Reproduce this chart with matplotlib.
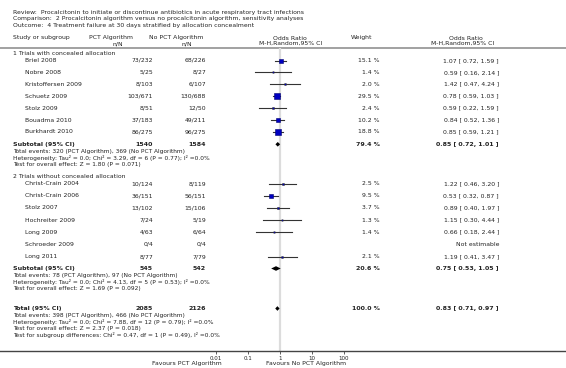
import matplotlib

matplotlib.use("Agg")
import matplotlib.pyplot as plt
import numpy as np

# ---- data ----
TITLE = ["Review:  Procalcitonin to initiate or discontinue antibiotics in acute respiratory tract infections",
         "Comparison:  2 Procalcitonin algorithm versus no procalcitonin algorithm, sensitivity analyses",
         "Outcome:  4 Treatment failure at 30 days stratified by allocation concealment"]

g1_names = ["Briel 2008", "Nobre 2008", "Kristoffersen 2009", "Schuetz 2009",
            "Stolz 2009", "Bouadma 2010", "Burkhardt 2010"]
g1_pct = ["73/232", "5/25", "8/103", "103/671", "8/51", "37/183", "86/275"]
g1_no = ["68/226", "8/27", "6/107", "130/688", "12/50", "49/211", "96/275"]
g1_w = [15.1, 1.4, 2.0, 29.5, 2.4, 10.2, 18.8]
g1_or = [1.07, 0.59, 1.42, 0.78, 0.59, 0.84, 0.85]
g1_lo = [0.72, 0.16, 0.47, 0.59, 0.22, 0.52, 0.59]
g1_hi = [1.59, 2.14, 4.24, 1.03, 1.59, 1.36, 1.21]

g2_names = ["Christ-Crain 2004", "Christ-Crain 2006", "Stolz 2007", "Hochreiter 2009",
            "Long 2009", "Schroeder 2009", "Long 2011"]
g2_pct = ["10/124", "36/151", "13/102", "7/24", "4/63", "0/4", "8/77"]
g2_no = ["8/119", "56/151", "15/106", "5/19", "6/64", "0/4", "7/79"]
g2_w = [2.5, 9.5, 3.7, 1.3, 1.4, None, 2.1]
g2_or = [1.22, 0.53, 0.89, 1.15, 0.66, None, 1.19]
g2_lo = [0.46, 0.32, 0.40, 0.30, 0.18, None, 0.41]
g2_hi = [3.20, 0.87, 1.97, 4.44, 2.44, None, 3.47]

# subtotal / total: n, n, weight, OR, lo, hi
sub1 = ("1540", "1584", 79.4, 0.85, 0.72, 1.01)
sub2 = ("545", "542", 20.6, 0.75, 0.53, 1.05)
total = ("2085", "2126", 100.0, 0.83, 0.71, 0.97)

sub1_notes = ["Total events: 320 (PCT Algorithm), 369 (No PCT Algorithm)",
              "Heterogeneity: Tau² = 0.0; Chi² = 3.29, df = 6 (P = 0.77); I² =0.0%",
              "Test for overall effect: Z = 1.80 (P = 0.071)"]
sub2_notes = ["Total events: 78 (PCT Algorithm), 97 (No PCT Algorithm)",
              "Heterogeneity: Tau² = 0.0; Chi² = 4.13, df = 5 (P = 0.53); I² =0.0%",
              "Test for overall effect: Z = 1.69 (P = 0.092)"]
total_notes = ["Total events: 398 (PCT Algorithm), 466 (No PCT Algorithm)",
               "Heterogeneity: Tau² = 0.0; Chi² = 7.88, df = 12 (P = 0.79); I² =0.0%",
               "Test for overall effect: Z = 2.37 (P = 0.018)",
               "Test for subgroup differences: Chi² = 0.47, df = 1 (P = 0.49), I² =0.0%"]

xticks = [0.01, 0.1, 1, 10, 100]
xticklabels = ["0.01", "0.1", "1", "10", "100"]

# ---- layout (pixel coords, y down) ----
W, H = 566, 368
FS, FSB, FSN = 4.4, 4.5, 4.25
INK = "#222222"
SQ = "#0000c0"
X_NAME, X_IND = 13, 25
X_PCT, X_NO, X_W, X_OR = 153, 206, 380, 499
PX_DEC = 32.0          # pixels per decade on the OR axis
PX_ONE = 280.0         # pixel position of OR = 1

plt.rcParams.update({"font.family": "DejaVu Sans", "text.color": INK})
fig = plt.figure(figsize=(W / 100, H / 100), dpi=100)
ax = fig.add_axes([0, 0, 1, 1])
ax.set_xlim(0, W)
ax.set_ylim(H, 0)
ax.axis("off")

# forest axes: log scale, spans full figure width so its spine is the full bottom rule
fx = fig.add_axes([0, 0, 1, 1], facecolor="none")
fx.set_xscale("log")
fx.set_xlim(10 ** (-PX_ONE / PX_DEC), 10 ** ((W - PX_ONE) / PX_DEC))
fx.set_ylim(H, 0)
for s in ("top", "left", "right"):
    fx.spines[s].set_visible(False)
fx.spines["bottom"].set_position(("data", 351))
fx.spines["bottom"].set_color("#444444")
fx.spines["bottom"].set_linewidth(1.0)
fx.set_yticks([])
fx.set_xticks(xticks)
fx.set_xticklabels(xticklabels, fontsize=4.0, color=INK)
fx.xaxis.set_minor_locator(matplotlib.ticker.NullLocator())
fx.tick_params(axis="x", direction="out", length=2.2, width=0.6, color="#444444", pad=1.5)


def t(x, y, s, ha="left", bold=False, fs=None):
    ax.text(x, y, s, ha=ha, va="center", fontsize=fs or (FSB if bold else FS),
            fontweight="bold" if bold else "normal", color=INK)


# title
for i, line in enumerate(TITLE):
    t(X_NAME, 12.5 + i * 6.3, line)

# header
t(X_NAME, 38, "Study or subgroup")
t(111, 38, "PCT Algorithm", ha="center")
t(118, 43.5, "n/N", ha="center")
t(176, 38, "No PCT Algorithm", ha="center")
t(187, 43.5, "n/N", ha="center")
t(290, 38, "Odds Ratio", ha="center")
t(291, 43.5, "M-H,Random,95% CI", ha="center")
t(362, 38, "Weight", ha="center")
t(466, 38, "Odds Ratio", ha="center")
t(463, 43.5, "M-H,Random,95% CI", ha="center")
ax.plot([0, W], [48, 48], color="#9a9a9a", lw=1.3, solid_capstyle="butt")

# reference line at OR = 1
fx.vlines(1, 48, 351, color="#dcdcdc", lw=1.6, zorder=0)


def study_rows(names, pct, no, w, orr, lo, hi, ys):
    for i, y in enumerate(ys):
        t(X_IND, y, names[i])
        t(X_PCT, y, pct[i], ha="right")
        t(X_NO, y, no[i], ha="right")
        if orr[i] is None:
            t(X_OR, y, "Not estimable", ha="right")
            continue
        t(X_W, y, f"{w[i]:.1f} %", ha="right")
        t(X_OR, y, f"{orr[i]:.2f} [ {lo[i]:.2f}, {hi[i]:.2f} ]", ha="right")
        fx.plot([lo[i], hi[i]], [y, y], color="#333333", lw=0.8, zorder=2)
        side = 12.0 * np.sqrt(w[i] / 100.0)
        fx.plot(orr[i], y, marker="s", ms=max(side * 0.72, 0.9), mfc=SQ,
                mec="#000070" if side > 2.5 else "#333333", mew=0.4, zorder=3)


def summary(row, y, label, notes):
    t(X_NAME, y, label, bold=True)
    t(X_PCT, y, row[0], ha="right", bold=True)
    t(X_NO, y, row[1], ha="right", bold=True)
    t(X_W, y, f"{row[2]:.1f} %", ha="right", bold=True)
    t(X_OR, y, f"{row[3]:.2f} [ {row[4]:.2f}, {row[5]:.2f} ]", ha="right", bold=True)
    h = 2.3
    fx.fill([row[4], row[3], row[5], row[3]], [y, y - h, y, y + h],
            color="black", lw=0, zorder=3)
    for k, n in enumerate(notes):
        t(X_NAME, y + 7.2 + k * 6.4, n, fs=FSN)


# group 1
t(X_NAME, 53.5, "1 Trials with concealed allocation")
ys1 = [60.5 + 11.9 * i for i in range(len(g1_names))]
study_rows(g1_names, g1_pct, g1_no, g1_w, g1_or, g1_lo, g1_hi, ys1)
summary(sub1, 144.3, "Subtotal (95% CI)", sub1_notes)

# group 2
t(X_NAME, 176, "2 Trials without concealed allocation")
ys2 = [183.5 + 12.2 * i for i in range(len(g2_names))]
study_rows(g2_names, g2_pct, g2_no, g2_w, g2_or, g2_lo, g2_hi, ys2)
summary(sub2, 268.5, "Subtotal (95% CI)", sub2_notes)

# overall
summary(total, 308.5, "Total (95% CI)", total_notes)

# favours labels
t(222, 363, "Favours PCT Algorithm", ha="right")
t(266, 363, "Favours No PCT Algorithm")

fig.savefig("out.png", dpi=100, facecolor="white")
